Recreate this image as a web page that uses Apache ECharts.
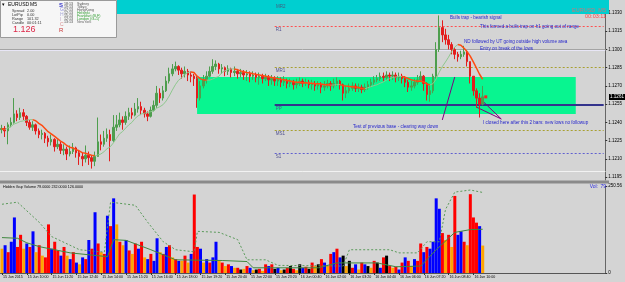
<!DOCTYPE html>
<html><head><meta charset="utf-8">
<script src="https://cdn.jsdelivr.net/npm/echarts@6/dist/echarts.min.js"></script>
<style>html,body{margin:0;padding:0;background:#d4d4d4;overflow:hidden}#c{width:625px;height:282px;}</style>
</head><body><div id="c"></div>
<script>
// ---------- DATA ----------
const timeLabels = ["15 Jun 2015","15 Jun 10:00","15 Jun 11:20","15 Jun 12:40","15 Jun 14:00","15 Jun 15:20","15 Jun 16:40","15 Jun 18:00","15 Jun 19:20","15 Jun 20:40","15 Jun 22:00","15 Jun 23:20","16 Jun 00:40","16 Jun 02:00","16 Jun 03:20","16 Jun 04:40","16 Jun 06:00","16 Jun 07:20","16 Jun 08:40","16 Jun 10:00"];
const closes = [1.1235,1.1233,1.1238,1.1240,1.1247,1.1244,1.1248,1.1245,1.1240,1.1236,
1.1238,1.1233,1.1230,1.1231,1.1227,1.1224,1.1226,1.1220,1.1222,1.1217,
1.1218,1.1214,1.1216,1.1219,1.1215,1.1212,1.1210,1.1213,1.1211,1.1208,
1.1212,1.1224,1.1222,1.1227,1.1230,1.1225,1.1236,1.1238,1.1242,1.1240,
1.1245,1.1248,1.1246,1.1251,1.1253,1.1250,1.1247,1.1245,1.1250,1.1254,
1.1264,1.1260,1.1266,1.1274,1.1280,1.1284,1.1286,1.1283,1.1280,1.1282,
1.1279,1.1278,1.1276,1.1260,1.1270,1.1275,1.1278,1.1282,1.1286,1.1288,
1.1284,1.1285,1.1282,1.1284,1.1281,1.1282,1.1280,1.1281,1.1279,1.1280,
1.1278,1.1279,1.1277,1.1278,1.1276,1.1277,1.1275,1.1276,1.1274,1.1275,
1.1273,1.1274,1.1272,1.1273,1.1271,1.1272,1.1274,1.1272,1.1273,1.1271,
1.1272,1.1270,1.1271,1.1269,1.1270,1.1272,1.1270,1.1272,1.1274,1.1271,
1.1264,1.1266,1.1268,1.1270,1.1268,1.1269,1.1267,1.1269,1.1271,1.1273,
1.1275,1.1276,1.1278,1.1277,1.1279,1.1278,1.1279,1.1277,1.1278,1.1276,
1.1273,1.1269,1.1270,1.1273,1.1275,1.1278,1.1272,1.1263,1.1266,1.1278,
1.1300,1.1318,1.1312,1.1308,1.1304,1.1300,1.1296,1.1294,1.1296,1.1298,
1.1290,1.1278,1.1266,1.1260,1.1255,1.1261];
const opens = [1.1234,1.1235,1.1233,1.1238,1.1240,1.1247,1.1244,1.1248,1.1245,1.1240,
1.1236,1.1238,1.1233,1.1230,1.1231,1.1227,1.1224,1.1226,1.1220,1.1222,
1.1217,1.1218,1.1214,1.1216,1.1219,1.1215,1.1212,1.1210,1.1213,1.1211,
1.1208,1.1212,1.1224,1.1222,1.1227,1.1230,1.1225,1.1236,1.1238,1.1242,
1.1240,1.1245,1.1248,1.1246,1.1251,1.1253,1.1250,1.1247,1.1245,1.1250,
1.1254,1.1264,1.1260,1.1266,1.1274,1.1280,1.1284,1.1286,1.1283,1.1280,
1.1282,1.1279,1.1278,1.1276,1.1260,1.1270,1.1275,1.1278,1.1282,1.1286,
1.1288,1.1284,1.1285,1.1282,1.1284,1.1281,1.1282,1.1280,1.1281,1.1279,
1.1280,1.1278,1.1279,1.1277,1.1278,1.1276,1.1277,1.1275,1.1276,1.1274,
1.1275,1.1273,1.1274,1.1272,1.1273,1.1271,1.1272,1.1274,1.1272,1.1273,
1.1271,1.1272,1.1270,1.1271,1.1269,1.1270,1.1272,1.1270,1.1272,1.1274,
1.1271,1.1264,1.1266,1.1268,1.1270,1.1268,1.1269,1.1267,1.1269,1.1271,
1.1273,1.1275,1.1276,1.1278,1.1277,1.1279,1.1278,1.1279,1.1277,1.1278,
1.1276,1.1273,1.1269,1.1270,1.1273,1.1275,1.1278,1.1272,1.1263,1.1266,
1.1278,1.1300,1.1318,1.1312,1.1308,1.1304,1.1300,1.1296,1.1294,1.1296,
1.1298,1.1290,1.1278,1.1266,1.1260,1.1255];
const highs = [1.1238,1.1237,1.1240,1.1244,1.1260,1.1250,1.1252,1.1251,1.1246,1.1242,
1.1241,1.1239,1.1235,1.1234,1.1232,1.1229,1.1230,1.1227,1.1226,1.1224,
1.1222,1.1220,1.1221,1.1223,1.1220,1.1217,1.1215,1.1221,1.1216,1.1213,
1.1216,1.1244,1.1230,1.1233,1.1235,1.1234,1.1246,1.1246,1.1248,1.1245,
1.1249,1.1252,1.1252,1.1256,1.1260,1.1257,1.1252,1.1249,1.1253,1.1258,
1.1270,1.1268,1.1270,1.1278,1.1285,1.1288,1.1290,1.1287,1.1285,1.1286,
1.1284,1.1282,1.1280,1.1278,1.1274,1.1279,1.1282,1.1286,1.1292,1.1291,
1.1289,1.1288,1.1286,1.1287,1.1285,1.1286,1.1284,1.1284,1.1283,1.1283,
1.1282,1.1282,1.1281,1.1281,1.1280,1.1280,1.1279,1.1279,1.1278,1.1278,
1.1277,1.1278,1.1276,1.1276,1.1275,1.1276,1.1277,1.1276,1.1276,1.1275,
1.1275,1.1274,1.1274,1.1273,1.1274,1.1275,1.1274,1.1276,1.1277,1.1275,
1.1272,1.1270,1.1272,1.1273,1.1272,1.1272,1.1271,1.1272,1.1274,1.1276,
1.1278,1.1279,1.1281,1.1281,1.1282,1.1281,1.1282,1.1281,1.1281,1.1280,
1.1278,1.1275,1.1274,1.1276,1.1279,1.1282,1.1279,1.1273,1.1270,1.1280,
1.1306,1.1328,1.1324,1.1317,1.1312,1.1306,1.1302,1.1298,1.1299,1.1303,
1.1299,1.1290,1.1278,1.1268,1.1264,1.1270];
const lows = [1.1231,1.1228,1.1222,1.1236,1.1239,1.1241,1.1242,1.1242,1.1237,1.1234,
1.1233,1.1230,1.1227,1.1226,1.1223,1.1220,1.1221,1.1216,1.1218,1.1214,
1.1213,1.1209,1.1212,1.1214,1.1211,1.1205,1.1204,1.1207,1.1205,1.1202,
1.1204,1.1214,1.1217,1.1220,1.1224,1.1208,1.1224,1.1233,1.1236,1.1234,
1.1238,1.1242,1.1243,1.1245,1.1248,1.1246,1.1244,1.1241,1.1244,1.1249,
1.1252,1.1256,1.1258,1.1265,1.1272,1.1278,1.1282,1.1279,1.1276,1.1277,
1.1274,1.1273,1.1270,1.1252,1.1258,1.1268,1.1272,1.1277,1.1280,1.1283,
1.1280,1.1280,1.1278,1.1279,1.1277,1.1278,1.1276,1.1277,1.1275,1.1274,
1.1273,1.1275,1.1273,1.1271,1.1272,1.1274,1.1270,1.1271,1.1270,1.1270,
1.1269,1.1270,1.1268,1.1269,1.1267,1.1268,1.1270,1.1269,1.1270,1.1268,
1.1267,1.1266,1.1267,1.1264,1.1266,1.1268,1.1266,1.1268,1.1270,1.1267,
1.1258,1.1260,1.1264,1.1266,1.1265,1.1265,1.1264,1.1265,1.1267,1.1269,
1.1271,1.1273,1.1274,1.1274,1.1275,1.1274,1.1275,1.1273,1.1274,1.1272,
1.1269,1.1265,1.1266,1.1268,1.1271,1.1274,1.1266,1.1258,1.1257,1.1264,
1.1276,1.1298,1.1306,1.1304,1.1300,1.1296,1.1292,1.1290,1.1292,1.1294,
1.1286,1.1272,1.1262,1.1252,1.1244,1.1254];
const volumes = [70,80,60,90,160,75,110,70,85,75,
120,60,80,50,45,140,70,90,65,50,
75,50,40,60,30,25,45,40,95,70,
175,85,60,55,165,135,215,140,90,80,
95,65,55,85,70,90,45,40,55,35,
100,60,55,75,80,45,40,35,35,50,
30,55,226,75,70,30,40,30,45,90,
35,30,20,25,20,15,15,10,12,20,
15,8,10,12,6,25,20,25,12,15,
8,10,15,20,12,8,25,15,18,12,
30,20,25,40,30,20,55,60,70,45,
50,20,35,15,25,10,30,25,20,15,
35,30,15,45,50,20,15,18,10,30,
45,35,20,40,35,85,60,75,70,90,
215,185,115,95,110,75,222,110,120,90,
80,227,160,145,135,79];
const volTypes = ["o","b","r","b","b","r","r","o","b","r",
"b","o","r","o","r","r","b","r","r","b",
"r","o","b","r","b","o","b","r","b","r",
"b","r","o","r","b","r","b","o","r","o",
"b","r","o","r","b","r","o","b","r","b",
"b","o","r","b","r","o","r","b","o","r",
"o","b","r","r","b","o","b","r","b","b",
"o","r","o","r","b","o","r","k","o","r",
"b","o","k","r","o","r","b","r","k","b",
"o","k","r","k","r","o","k","b","r","k",
"r","o","k","r","b","o","r","b","r","b",
"k","o","k","r","b","o","r","b","k","o",
"r","k","b","r","k","r","o","r","b","r",
"b","r","o","b","r","r","b","r","b","b",
"b","b","r","o","r","o","r","b","b","r",
"o","r","r","r","b","o"];
const volLongAvg = [[0,198],[5,204],[12,146],[16,105],[25,67],[33,60],[35,204],[43,195],[47,146],[52,90],[56,67],[62,61],[63,120],[70,117],[76,96],[79,38],[85,38],[89,22],[110,20],[112,67],[125,67],[128,58],[134,58],[137,90],[141,90],[143,183],[146,233],[151,239],[155,232]];
const volShortAvg = [[0,102],[5,100],[8,87],[12,76],[22,58],[34,47],[36,96],[40,94],[48,67],[56,38],[71,36],[79,33],[81,15],[102,15],[108,29],[121,29],[127,18],[135,20],[140,67],[146,117],[151,125],[155,126]];
const priceTicks = [1.1195,1.1210,1.1225,1.1240,1.1255,1.1270,1.1285,1.1300,1.1315,1.1330];
const volTicks = [0,250.56];
const boxBars = [63,185];
const boxPrices = [1.12773,1.12469];
const fullLevels = [1.12995,1.12749,1.12494,1.12255,1.11991];
const fullLevelColors = ['#e8e6f6','#ecf0c4','#c6eec6','#e6e6da','#f2f2f2'];
const pivotNames = ['R1','MR1','PP','MS1','S1'];
const pivotValues = [1.13193,1.12856,1.12543,1.12337,1.12148];
const bidPrice = 1.1261;

// ---------- CHART ----------
const N = 195;
const cats = Array.from({length:N},(_, i)=>'b'+i);
const candleData = opens.map((o,i)=>[o,closes[i],lows[i],highs[i]]);
const volColor = {b:'#0000ff',r:'#ff0000',o:'#ffa500',k:'#000000'};
const volData = volumes.map((v,i)=>({value:v,itemStyle:{color:volColor[volTypes[i]]}}));
const P = 8;
const ma = closes.map((c,i)=>{const s=Math.max(0,i-P+1);let t=0;for(let j=s;j<=i;j++)t+=closes[j];return t/(i-s+1);});
const maDown = new Array(ma.length).fill(null), maUp = new Array(ma.length).fill(null);
for(let i=1;i<ma.length;i++){ if(ma[i]<ma[i-1]){maDown[i-1]=ma[i-1];maDown[i]=ma[i];} else {maUp[i-1]=ma[i-1];maUp[i]=ma[i];} }

const FF = 'Liberation Sans, Arial, sans-serif';
const showLab = (idx)=> idx%8===0 && idx/8 < timeLabels.length;

const pivotStyles = [
 {color:'#ff5050',type:[2,2],width:1},
 {color:'#a8a030',type:[2,2],width:1},
 {color:'#33338c',type:'solid',width:2},
 {color:'#a8a030',type:[2,2],width:1},
 {color:'#6060d0',type:[2,2],width:1}
];
const mlData = [];
fullLevels.forEach((v,k)=>mlData.push({yAxis:v,lineStyle:{color:fullLevelColors[k],width:k===0?2:1,type:'solid'},label:{show:false}}));
mlData.push({yAxis:bidPrice,lineStyle:{color:'#a4a4a4',width:1,type:'solid'},label:{show:false}});
pivotValues.forEach((v,k)=>mlData.push([
 {coord:[88,v],lineStyle:pivotStyles[k],label:{show:true,formatter:pivotNames[k],position:'insideStartBottom',distance:[1,1],fontSize:4.5,fontFamily:FF,color:'#505090'}},
 {coord:[194,v]}]));
const purple = {color:'#800080',width:1,type:'solid'};
mlData.push([{coord:[142,1.1242],lineStyle:purple,label:{show:false}},{coord:[146,1.12773]}]);
mlData.push([{coord:[154,1.1260],lineStyle:purple,label:{show:false}},{coord:[161,1.12428]}]);
mlData.push([{coord:[153,1.12526],lineStyle:purple,label:{show:false}},{coord:[161,1.12428]}]);

function T(x,y,text,size,color,weight,align,z){
  return {type:'text',x:x,y:y,z:z||100,silent:true,style:{text:text,fill:color||'#000',fontSize:size,fontFamily:FF,fontWeight:weight||'normal',align:align||'left',verticalAlign:'middle'}};
}
const graphics = [
 {type:'rect',shape:{x:117,y:0,width:492,height:14},style:{fill:'#00cfd0'},z:50,silent:true},
 {type:'rect',shape:{x:0,y:180.5,width:609,height:3},style:{fill:'#8a8a8a'},z:50,silent:true},
 {type:'rect',shape:{x:0.5,y:0.5,width:116,height:37},style:{fill:'#f6f6f6',stroke:'#9a9a9a',lineWidth:1},z:60,silent:true},
 T(2,5,'▾',5,'#000'),
 T(8,5,'EURUSD',5,'#000'),
 T(30,5,'M5',5,'#000'),
 T(12,11,'Spread',3.8,'#333'),T(27,11,'2.00',3.8,'#333'),
 T(12,15,'LotPip',3.8,'#333'),T(27,15,'0.00',3.8,'#333'),
 T(12,19,'Range',3.8,'#333'),T(27,19,'101.32',3.8,'#333'),
 T(12,23,'Candle',3.8,'#333'),T(27,23,'00:01:11',3.8,'#333'),
 T(13,30,'1.126',9,'#dc2848'),
 T(59,5,'S',6,'#3434c8','bold'),
 T(60,10,'G',5,'#8a8ad8'),T(60,15,'H',5,'#a8a8d8'),T(60,20,'I',5,'#c0a8c8'),T(60,25,'C',5,'#d89090'),T(59,30,'R',6,'#c83434'),
 T(64,4,'18:13',3.6,'#444'),T(64,7,'19:13',3.6,'#444'),T(64,10,'17:13',3.6,'#444'),T(64,13,'12:13',3.6,'#444'),
 T(64,16,'15:13',3.6,'#444'),T(64,19,'12:13',3.6,'#444'),T(64,22,'13:13',3.6,'#444'),
 T(77,4,'Sydney',3.6,'#555'),T(77,7,'Tokyo',3.6,'#555'),T(77,10,'HongKong',3.6,'#555'),T(77,13,'Helsinki',3.6,'#2a9a2a'),
 T(77,16,'Frankfurt (B,F)',3.6,'#2a9a2a'),T(77,19,'London (G+1)',3.6,'#2a9a2a'),T(77,22,'NewYork',3.6,'#666'),
 T(276,7,'MR2',4.5,'#406080'),
 T(606,10,'EURUSD  M5',5.5,'#c87878',null,'right'),
 T(606,16,'00:03:11',5.5,'#ff4848',null,'right'),
 T(450,18,'Bulls trap - bearish signal',4.6,'#2626cc'),
 T(480,27,'This formed a bulls trap on h1 going out of range',4.6,'#2626cc'),
 T(464,42,'ND followed by UT going outside high volume area',4.6,'#2626cc'),
 T(480,49,'Entry on break of the lows',4.6,'#2626cc'),
 T(353,127,'Test of previous base - clearing way down',4.6,'#2626cc'),
 T(483,123,'I closed here after this 2 bars: new lows no followup',4.6,'#2626cc'),
 T(3,187,'Hidden Gap Volume 79.0000 232.0000 126.0000',3.7,'#000'),
 T(598,187,'Vol:',5,'#3030e0',null,'right'),T(606,187,'79',5,'#3030e0',null,'right')
];

const option = {
 animation:false,
 backgroundColor:'#d4d4d4',
 grid:[{left:0,top:0,width:609,height:180},{left:0,top:186,width:609,height:87}],
 xAxis:[
  {type:'category',gridIndex:0,data:cats,boundaryGap:true,axisLine:{show:false},axisTick:{show:false},axisLabel:{show:false},splitLine:{show:false}},
  {type:'category',gridIndex:1,data:cats,boundaryGap:true,axisLine:{show:true,lineStyle:{color:'#555',width:1}},
   axisTick:{show:true,alignWithLabel:true,interval:showLab,length:2,lineStyle:{color:'#333'}},
   axisLabel:{show:true,interval:showLab,hideOverlap:false,formatter:(v,i)=>timeLabels[i/8]||'',align:'left',margin:2,fontSize:3.6,fontFamily:FF,color:'#000',padding:[0,0,0,1]},splitLine:{show:false}}
 ],
 yAxis:[
  {type:'value',gridIndex:0,min:1.11926,max:1.13407,position:'right',scale:true,
   axisLine:{show:true,lineStyle:{color:'#666',width:1}},
   axisTick:{show:true,length:2,customValues:priceTicks,lineStyle:{color:'#333'}},
   axisLabel:{show:true,customValues:priceTicks,formatter:v=>v.toFixed(4),fontSize:4.5,fontFamily:FF,color:'#000',margin:3},
   splitLine:{show:false}},
  {type:'value',gridIndex:1,min:0,max:250.56,position:'right',
   axisLine:{show:true,lineStyle:{color:'#666',width:1}},
   axisTick:{show:true,length:2,customValues:volTicks,lineStyle:{color:'#333'}},
   axisLabel:{show:true,customValues:volTicks,formatter:v=>v===0?'0':v.toFixed(2),fontSize:4.5,fontFamily:FF,color:'#000',margin:3},
   splitLine:{show:false}}
 ],
 series:[
  {type:'candlestick',xAxisIndex:0,yAxisIndex:0,data:candleData,barWidth:2,z:5,
   itemStyle:{color:'#4e9e4e',color0:'#e41c1c',borderColor:'#4e9e4e',borderColor0:'#e41c1c',borderWidth:1},
   markArea:{silent:true,itemStyle:{color:'#08f590',opacity:1},data:[[{coord:[boxBars[0],boxPrices[0]]},{coord:[boxBars[1],boxPrices[1]]}]]},
   markLine:{silent:true,symbol:['none','none'],animation:false,data:mlData},
   markPoint:{silent:true,symbol:'rect',symbolSize:3,itemStyle:{color:'#ff2020'},label:{show:false},data:[{coord:[156,bidPrice]}]}
  },
  {type:'line',xAxisIndex:0,yAxisIndex:0,data:maUp,symbol:'none',connectNulls:false,z:6,lineStyle:{color:'#8ec88e',width:1}},
  {type:'line',xAxisIndex:0,yAxisIndex:0,data:maDown,symbol:'none',connectNulls:false,z:6,lineStyle:{color:'#ff4a10',width:1.5}},
  {type:'bar',xAxisIndex:1,yAxisIndex:1,data:volData,barWidth:3,barGap:'-100%',z:2},
  {type:'line',xAxisIndex:1,yAxisIndex:1,data:volLongAvg,symbol:'none',z:3,lineStyle:{color:'#5a9a5a',width:1,type:[2,2]}},
  {type:'line',xAxisIndex:1,yAxisIndex:1,data:volShortAvg,symbol:'none',z:3,lineStyle:{color:'#3f883f',width:1}}
 ],
 graphic:graphics
};
const chart = echarts.init(document.getElementById('c'),null,{renderer:'canvas'});
chart.setOption(option);
const bidY = chart.convertToPixel({yAxisIndex:0}, bidPrice);
graphics.push({type:'rect',shape:{x:609,y:Math.round(bidY)-3,width:16,height:6},style:{fill:'#000'},z:110,silent:true});
graphics.push(T(617,Math.round(bidY),bidPrice.toFixed(4),4.5,'#fff',null,'center',120));
chart.setOption({graphic:graphics});
</script></body></html>
